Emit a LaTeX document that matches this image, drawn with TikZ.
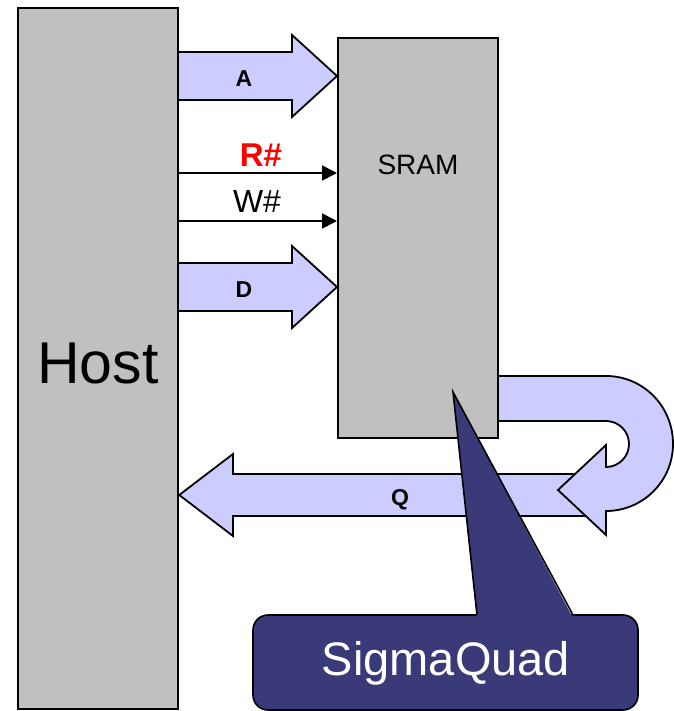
\documentclass[tikz,border=0pt]{standalone}
\usepackage{fontspec}
\setmainfont{Liberation Sans}
\usetikzlibrary{arrows.meta}
\definecolor{boxgray}{HTML}{C0C0C0}
\definecolor{arrowfill}{HTML}{CCCCFF}
\definecolor{calloutblue}{HTML}{3A3A78}
\pgfdeclarelayer{background}
\pgfsetlayers{background,main}
\begin{document}
\begin{tikzpicture}[x=1pt,y=-1pt,
  box/.style={draw=black, line width=2.4pt, fill=boxgray, inner sep=0pt},
  fat/.style={fill=arrowfill, draw=black, line width=1.8pt, line join=miter},
  sig/.style={line width=1.8pt, -{Triangle[length=15pt,width=15pt]}},
  lbl/.style={inner sep=0pt, anchor=base},
  boldlbl/.style={lbl, font=\fontsize{23}{23}\selectfont\bfseries}]
\useasboundingbox (0,0) rectangle (673,711);
% boxes
\node[box, minimum width=160pt, minimum height=701pt] (host) at (98,358.5) {};
\node[box, line width=2pt, minimum width=160pt, minimum height=400pt] (sram) at (418,238) {};
\node[lbl, font=\fontsize{59}{59}\selectfont] (hostt) at (98,383) {Host};
\node[lbl, font=\fontsize{28}{28}\selectfont] (sramt) at (418,175) {SRAM};
% fat arrows (behind boxes)
\begin{pgfonlayer}{background}
\filldraw[fat] (host.east |- 0,52) -- (292,52) -- (292,35) -- (sram.west |- 0,76) -- (292,117) -- (292,100) -- (host.east |- 0,100);
\filldraw[fat] (host.east |- 0,263) -- (292,263) -- (292,246) -- (sram.west |- 0,287) -- (292,328) -- (292,311) -- (host.east |- 0,311);
\filldraw[fat] (host.east |- 0,495) -- (233,454) -- (233,474) -- (603,474) -- (603,516) -- (233,516) -- (233,536) -- cycle;
\filldraw[fat] (sram.east |- 0,376) -- (606,376)
  .. controls (643,376) and (673,406) .. (673,444)
  .. controls (673,481) and (643,511) .. (606,511)
  -- (606,535) -- (558,490) -- (606,445) -- (606,467)
  .. controls (618.7,467) and (629,456.7) .. (629,444)
  .. controls (629,431.3) and (618.7,421) .. (606,421)
  -- (sram.east |- 0,421);
\end{pgfonlayer}
\node[boldlbl] (at) at (244,87) {A};
\node[boldlbl] (dt) at (244,297) {D};
\node[boldlbl] (qt) at (400,505) {Q};
% thin signals
\draw[sig] (host.east |- 0,173) -- (sram.west |- 0,173);
\draw[sig] (host.east |- 0,221) -- (sram.west |- 0,221);
\node[lbl, text=red, font=\fontsize{33}{33}\selectfont\bfseries] (rt) at (261,167) {R\#};
\node[lbl, font=\fontsize{32}{32}\selectfont] (wt) at (257,213) {W\#};
% callout
\node[draw=black, fill=calloutblue, line width=1.6pt, rounded corners=15pt, minimum width=385pt, minimum height=95pt, inner sep=0pt] (sq) at (445.5,662.5) {};
\coordinate (ptip) at (453,392);
\fill[calloutblue] (477,618) -- (ptip) -- (573,618) -- cycle;
\draw[line width=1.6pt, line join=miter] (477,615) -- (ptip) -- (573,615);
\node[lbl, text=white, font=\fontsize{47}{47}\selectfont] (sqt) at (446,675) {SigmaQuad};
\end{tikzpicture}
\end{document}
